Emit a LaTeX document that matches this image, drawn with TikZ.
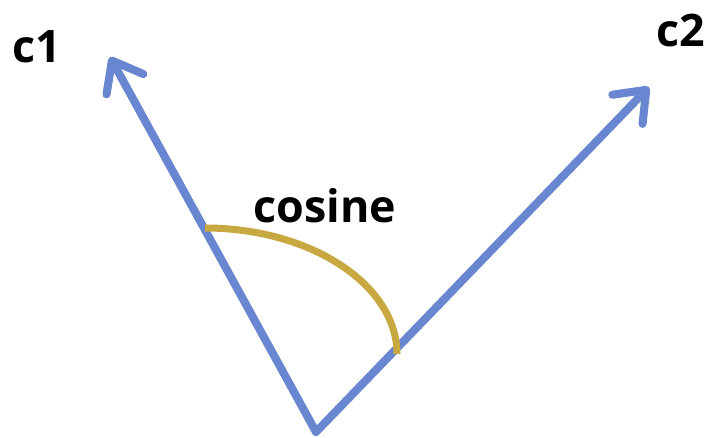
\documentclass[tikz,border=0pt]{standalone}
\usepackage{fontspec}
\setmainfont{Open Sans}
\usetikzlibrary{arrows.meta}
\usetikzlibrary{positioning}
\definecolor{vecblue}{RGB}{104,135,208}
\definecolor{arcgold}{RGB}{200,168,64}
\tikzstyle{vec}=[draw=vecblue, line width=4.6pt, line cap=round, line join=round,
-{Straight Barb[length=5.4mm, width=8.4mm, line cap=round, line join=round]}]
\tikzstyle{angarc}=[draw=arcgold, line width=4pt]
\tikzstyle{lbl}=[font=\fontsize{25.5}{30}\selectfont\bfseries, text=black, inner sep=0pt]

\begin{document}
\begin{tikzpicture}[x=0.02cm, y=-0.02cm]
    \useasboundingbox (0,0) rectangle (709,438);

    \coordinate (O) at (316,432);
    \coordinate (c1tip) at (110,57);
    \coordinate (c2tip) at (649,87);

    \draw[vec] (O) -- (c1tip);
    \draw[vec] (O) -- (c2tip);

    % angle between the two vectors
    \coordinate (arcA) at (205,228);
    \coordinate (arcB) at (397,354);
    \draw[angarc] (arcA) .. controls (311,228) and (397,285) .. (arcB);

    \node[lbl] (c1) at (37,47) {c1};
    \node[lbl] (c2) at (681,31) {c2};
    \node[lbl] (cosine) at (325,206) {cosine};
\end{tikzpicture}
\end{document}
